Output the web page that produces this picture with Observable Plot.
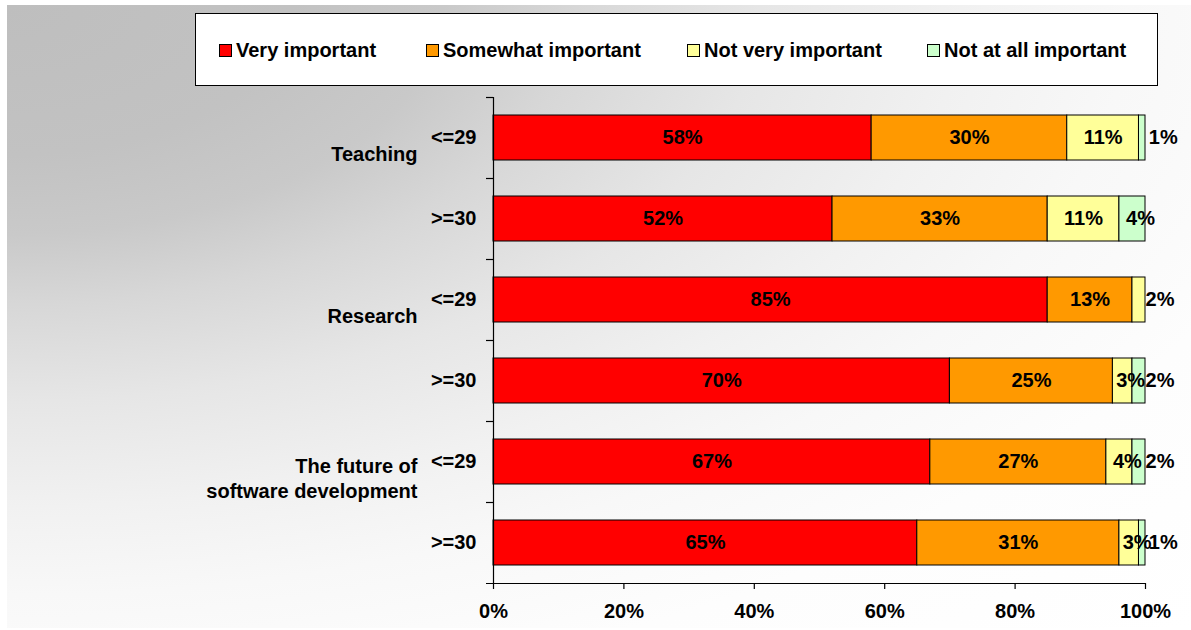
<!DOCTYPE html>
<html>
<head>
<meta charset="utf-8">
<script src="https://cdn.jsdelivr.net/npm/d3@7"></script>
<script src="https://cdn.jsdelivr.net/npm/@observablehq/plot@0.6"></script>
<style>
  body { margin: 0; background: #fff; }
  #wrap { position: relative; width: 1191px; height: 630px; overflow: hidden;
          font-family: "Liberation Sans", Arial, sans-serif; }
  #bg { position: absolute; left: 7px; top: 5px; right: 0; bottom: 2px;
        background: radial-gradient(ellipse farthest-corner at 0 0,
          #bebebe 0%, #c2c2c2 17%, #c9c9c9 26%, #d7d7d7 34%, #e6e6e6 45%,
          #f1f1f1 57%, #f8f8f8 67%, #fdfdfd 80%, #ffffff 100%); }
  #legend { position: absolute; left: 195px; top: 13px; width: 961px; height: 71px;
            border: 1px solid #000; background: #fff; }
  .item { position: absolute; top: 25px; height: 22px; display: flex; align-items: center;
          font-weight: bold; font-size: 20px; color: #000; white-space: nowrap; }
  .sw { width: 11px; height: 11px; border: 1px solid #000; margin-right: 4px; }
  #chart { position: absolute; left: 0; top: 0; }
</style>
</head>
<body>
<div id="wrap">
  <div id="bg"></div>
  <div id="chart"></div>
  <div id="legend"></div>
</div>
<script>
// ---- data ----
const groups = ["Teaching", "Research", "The future of\nsoftware development"];
const ages = ["<=29", ">=30"];
const levels = ["Very important", "Somewhat important", "Not very important", "Not at all important"];
const colors = ["#ff0000", "#ff9900", "#ffff99", "#ccffcc"];
// one value per row: Teaching <=29, Teaching >=30, Research <=29, Research >=30, Future <=29, Future >=30
const veryImportant     = [58, 52, 85, 70, 67, 65];
const somewhatImportant = [30, 33, 13, 25, 27, 31];
const notVeryImportant  = [11, 11,  2,  3,  4,  3];
const notAtAllImportant = [ 1,  4,  0,  2,  2,  1];
const xTicks = [0, 20, 40, 60, 80, 100];
const series = [veryImportant, somewhatImportant, notVeryImportant, notAtAllImportant];

// ---- table ----
const rows = [];
groups.forEach((g, gi) => ages.forEach((a, ai) => rows.push({key: gi + "|" + a, group: g, age: a, i: gi * 2 + ai})));
const data = [];
rows.forEach(r => {
  let cum = 0;
  const vals = series.map(s => s[r.i]);
  let lastIdx = -1;
  vals.forEach((v, k) => { if (v > 0) lastIdx = k; });
  vals.forEach((v, li) => {
    data.push({key: r.key, level: levels[li], value: v, x1: cum, x2: cum + v, mid: cum + v / 2, last: li === lastIdx});
    cum += v;
  });
});
const shown = data.filter(d => d.value > 0);

// ---- layout ----
const W = 1191, H = 630, mt = 97, mb = 47, ml = 493, mr = 46;
const step = (H - mt - mb) / rows.length;
const tickLen = 7 / (W - ml - mr) * 100;

const chart = Plot.plot({
  width: W, height: H,
  marginTop: mt, marginBottom: mb, marginLeft: ml, marginRight: mr,
  style: {background: "transparent", fontFamily: "'Liberation Sans', Arial, sans-serif",
          fontSize: "20px", fontWeight: "bold", color: "#000", overflow: "visible"},
  x: {domain: [0, 100]},
  y: {domain: rows.map(r => r.key), paddingInner: 0.44, paddingOuter: 0.22},
  color: {domain: levels, range: colors},
  marks: [
    Plot.barX(shown, {x1: "x1", x2: "x2", y: "key", fill: "level", stroke: "#000", strokeWidth: 1}),
    Plot.text(shown.filter(d => d.value > 4), {x: "mid", y: "key", text: d => d.value + "%", fill: "#000"}),
    Plot.text(shown.filter(d => d.value <= 4 && !(d.last && d.value <= 2)), {x: "mid", y: "key", text: d => d.value + "%", fill: "#000", dx: 8}),
    Plot.text(shown.filter(d => d.last && d.value <= 2), {x: "mid", y: "key", text: d => d.value + "%", fill: "#000", dx: 21}),
    // y axis line and band-boundary ticks
    Plot.ruleX([0], {stroke: "#000", strokeWidth: 1.2}),
    Plot.ruleY(rows, {y: "key", x1: -tickLen, x2: 0, dy: -step / 2, stroke: "#000", strokeWidth: 1.2}),
    Plot.ruleY(rows.slice(-1), {y: "key", x1: -tickLen, x2: 100, dy: step / 2, stroke: "#000", strokeWidth: 1.2}),
    // axes
    Plot.axisX({ticks: xTicks, tickFormat: d => d + "%", tickSize: 6, tickPadding: 14, label: null, stroke: "#000", strokeWidth: 1.2}),
    Plot.axisY({tickSize: 0, tickPadding: 17, tickFormat: k => k.split("|")[1], label: null}),
    // group labels
    Plot.text(rows.filter(r => r.age === "<=29"), {x: 0, y: "key", text: "group", textAnchor: "end",
      dx: -76, dy: 15, lineHeight: 1.25, fill: "#000"})
  ]
});
document.getElementById("chart").appendChild(chart);

// ---- legend ----
const legendLeft = [23, 230, 491, 731];
const legend = document.getElementById("legend");
levels.forEach((l, i) => {
  const it = document.createElement("div");
  it.className = "item";
  it.style.left = legendLeft[i] + "px";
  const sw = document.createElement("span");
  sw.className = "sw";
  sw.style.background = colors[i];
  const tx = document.createElement("span");
  tx.textContent = l;
  it.appendChild(sw); it.appendChild(tx);
  legend.appendChild(it);
});
</script>
</body>
</html>
